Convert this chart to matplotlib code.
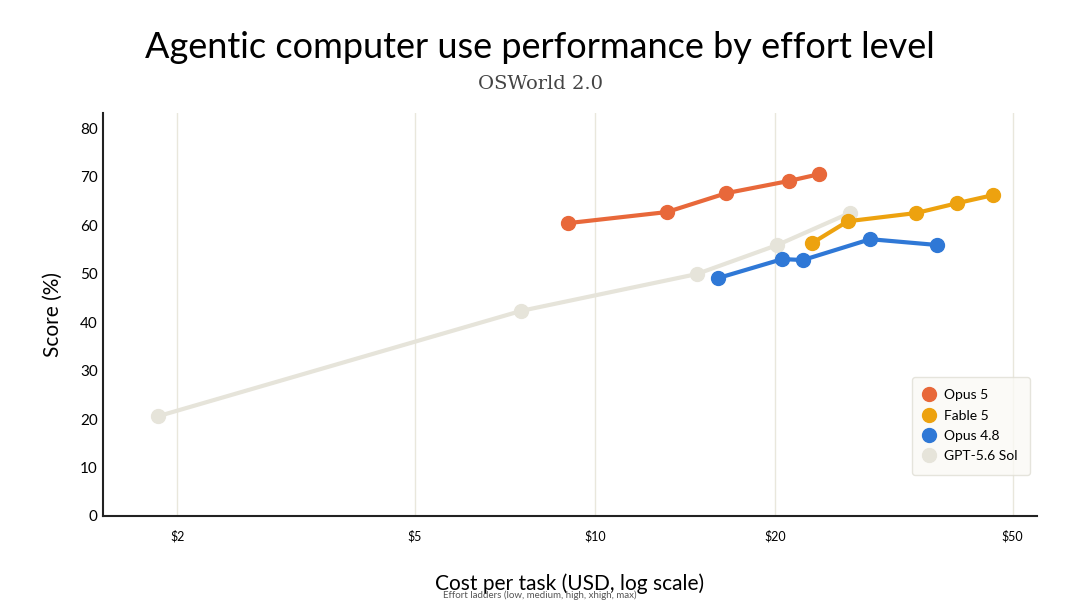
import matplotlib.pyplot as plt
from matplotlib.ticker import FixedLocator, NullLocator

plt.rcParams['font.family'] = ['Lato', 'DejaVu Sans']

opus5_cost = [9.0, 13.2, 16.6, 21.1, 23.7]
opus5_score = [60.4, 62.7, 66.6, 69.1, 70.5]
fable5_cost = [23.1, 26.5, 34.5, 40.3, 46.4]
fable5_score = [56.3, 60.8, 62.5, 64.5, 66.2]
opus48_cost = [16.1, 20.6, 22.3, 28.9, 37.4]
opus48_score = [49.1, 53.0, 52.8, 57.1, 55.9]
gpt_cost = [1.86, 7.52, 14.8, 20.2, 26.7]
gpt_score = [20.6, 42.3, 49.9, 55.9, 62.5]

xticks = [2, 5, 10, 20, 50]
xticklabels = ['$2', '$5', '$10', '$20', '$50']

fig = plt.figure(figsize=(10.8, 6.15), dpi=100)
ax = fig.add_axes([0.095, 0.161, 0.865, 0.655])

series = [
    (gpt_cost, gpt_score, '#E6E4DA', 'GPT-5.6 Sol'),
    (opus48_cost, opus48_score, '#2F78D6', 'Opus 4.8'),
    (fable5_cost, fable5_score, '#EDA20F', 'Fable 5'),
    (opus5_cost, opus5_score, '#E8683A', 'Opus 5'),
]
handles = {}
for xs, ys, c, name in series:
    h, = ax.plot(xs, ys, '-o', color=c, lw=3, ms=10, label=name, zorder=3)
    handles[name] = h

ax.set_xscale('log')
ax.set_xlim(1.5, 54.9)
ax.set_ylim(0, 83.1)
ax.xaxis.set_major_locator(FixedLocator(xticks))
ax.set_xticklabels(xticklabels)
ax.xaxis.set_minor_locator(NullLocator())
ax.set_yticks(range(0, 81, 10))
ax.grid(axis='x', color='#E9E7DC', lw=1)
ax.tick_params(axis='x', length=0, labelsize=9, pad=10)
ax.tick_params(axis='y', length=0, labelsize=11)
for s in ['top', 'right']:
    ax.spines[s].set_visible(False)
for s in ['left', 'bottom']:
    ax.spines[s].set_color('#222222')
    ax.spines[s].set_linewidth(1.5)

ax.set_ylabel('Score (%)', fontsize=15, labelpad=12)
ax.set_xlabel('Cost per task (USD, log scale)', fontsize=15, labelpad=22)
fig.text(0.5, 0.027, 'Effort ladders (low, medium, high, xhigh, max)', ha='center', fontsize=7, color='#555555')

fig.text(0.5, 0.905, 'Agentic computer use performance by effort level', ha='center', fontsize=26)
fig.text(0.5, 0.855, 'OSWorld 2.0', ha='center', fontsize=14, family=['DejaVu Serif'], color='#444444')

order = ['Opus 5', 'Fable 5', 'Opus 4.8', 'GPT-5.6 Sol']
leg = ax.legend([handles[n] for n in order], order, loc='lower right',
                bbox_to_anchor=(1.0, 0.085), frameon=True, fontsize=10,
                handlelength=0.6, markerscale=1.0, handletextpad=0.8,
                borderpad=0.9, labelspacing=0.6,
                facecolor='#FAF9F5', edgecolor='#E0DED5')
for line in leg.get_lines():
    line.set_linestyle('')

fig.savefig('out.png', dpi=100)
